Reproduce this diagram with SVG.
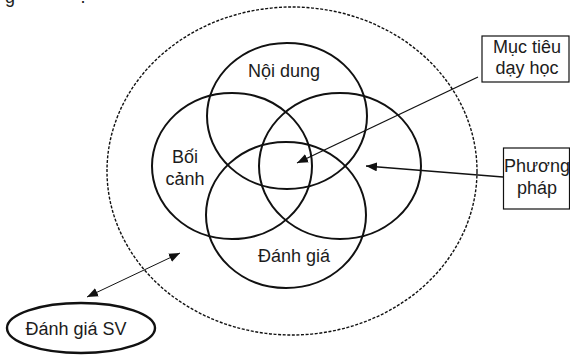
<svg xmlns="http://www.w3.org/2000/svg" width="570" height="356" viewBox="0 0 570 356">
  <style>
    .lbl { font-family: "Liberation Sans", Arial, sans-serif; font-size: 18px; fill: #1c1c1c; text-anchor: middle; }
    .ring { fill: none; stroke: #111; stroke-width: 2; }
    .box { fill: #fff; stroke: #111; stroke-width: 1.2; }
    .link { fill: none; stroke: #111; stroke-width: 1.3; }
    .thin { fill: none; stroke: #111; stroke-width: 1; }
  </style>
  <defs>
    <marker id="head" markerUnits="userSpaceOnUse" markerWidth="11" markerHeight="9" refX="11" refY="4.5" orient="auto-start-reverse">
      <path d="M0,0 L11,4.5 L0,9 z" fill="#111"/>
    </marker>
  </defs>

  <!-- cropped caption text along the top edge -->
  <text class="lbl" x="10" y="3">g</text>
  <text class="lbl" x="83" y="3">.</text>

  <!-- outer dashed boundary -->
  <g id="boundary">
    <ellipse cx="292" cy="171" rx="185" ry="164" fill="none" stroke="#111" stroke-width="1.4" stroke-dasharray="3 1.6"/>
  </g>

  <!-- four overlapping components -->
  <g id="noi-dung">
    <ellipse class="ring" cx="287" cy="116" rx="80" ry="73"/>
    <text class="lbl" x="284" y="77">Nội dung</text>
  </g>
  <g id="boi-canh">
    <ellipse class="ring" cx="232" cy="166" rx="80" ry="73"/>
    <text class="lbl" x="185" y="163">Bối</text>
    <text class="lbl" x="185" y="185">cảnh</text>
  </g>
  <g id="phuong-phap-ring">
    <ellipse class="ring" cx="340" cy="166" rx="81" ry="73"/>
  </g>
  <g id="danh-gia">
    <ellipse class="ring" cx="286" cy="215" rx="80" ry="73"/>
    <text class="lbl" x="294" y="262">Đánh giá</text>
  </g>

  <!-- side labels -->
  <g id="muc-tieu">
    <rect class="box" x="482" y="36" width="87" height="46"/>
    <text class="lbl" x="527" y="53">Mục tiêu</text>
    <text class="lbl" x="527" y="74">dạy học</text>
  </g>
  <g id="phuong-phap">
    <rect class="box" x="503.5" y="148" width="66" height="61"/>
    <text class="lbl" x="537" y="172">Phương</text>
    <text class="lbl" x="537" y="194">pháp</text>
  </g>
  <g id="danh-gia-sv">
    <ellipse cx="81" cy="328" rx="74" ry="25" fill="#fff" stroke="#111" stroke-width="2.4"/>
    <text class="lbl" x="76" y="335">Đánh giá SV</text>
  </g>

  <!-- connectors -->
  <g id="connectors">
    <line class="link" x1="478" y1="77" x2="297" y2="163" marker-end="url(#head)"/>
    <line class="link" x1="503" y1="177" x2="366" y2="166" marker-end="url(#head)"/>
    <line class="thin" x1="87" y1="297" x2="180" y2="253" marker-start="url(#head)" marker-end="url(#head)"/>
  </g>
</svg>
